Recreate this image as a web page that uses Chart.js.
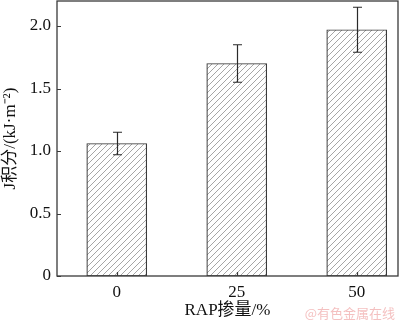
<!DOCTYPE html>
<html>
<head>
<meta charset="utf-8">
<script src="https://cdn.jsdelivr.net/npm/chart.js@4/dist/chart.umd.min.js"></script>
<style>
  html, body { margin: 0; padding: 0; background: #fff; }
  #wrap { width: 400px; height: 323px; position: relative; }
</style>
</head>
<body>
<div id="wrap"><canvas id="c" width="400" height="323"></canvas></div>
<script>
// RAP content (%) and J-integral results
const rapContent = [0, 25, 50];
const jIntegral = [1.06, 1.70, 1.97];
const jError = [0.09, 0.15, 0.18];
const yTicks = [0, 0.5, 1.0, 1.5, 2.0];

const serif = "'Liberation Serif', 'Times New Roman', 'Noto Sans CJK SC', serif";
const ink = '#3a3a3a';

// diagonal hatch fill for the bars
function makeHatch() {
  const s = 6;
  const c = document.createElement('canvas');
  c.width = s; c.height = s;
  const g = c.getContext('2d');
  g.fillStyle = '#ffffff';
  g.fillRect(0, 0, s, s);
  g.strokeStyle = '#8f8f8f';
  g.lineWidth = 0.8;
  g.beginPath();
  g.moveTo(0, s); g.lineTo(s, 0);
  g.moveTo(-1, 1); g.lineTo(1, -1);
  g.moveTo(s - 1, s + 1); g.lineTo(s + 1, s - 1);
  g.stroke();
  return g.createPattern(c, 'repeat');
}

// frame, inward ticks, error bars and the site mark
const decorations = {
  id: 'decorations',
  afterDatasetsDraw(chart) {
    const { ctx, chartArea: a, scales: { x, y } } = chart;
    ctx.save();
    // error bars
    ctx.strokeStyle = '#2a2a2a';
    ctx.lineWidth = 1.2;
    rapContent.forEach((v, i) => {
      const px = Math.round(x.getPixelForValue(v)) + 0.5;
      const top = y.getPixelForValue(jIntegral[i] + jError[i]);
      const bot = y.getPixelForValue(jIntegral[i] - jError[i]);
      ctx.beginPath();
      ctx.moveTo(px, top); ctx.lineTo(px, bot);
      ctx.moveTo(px - 4.5, top); ctx.lineTo(px + 4.5, top);
      ctx.moveTo(px - 4.5, bot); ctx.lineTo(px + 4.5, bot);
      ctx.stroke();
    });
    // frame
    ctx.strokeStyle = ink;
    ctx.lineWidth = 1.3;
    ctx.strokeRect(a.left, a.top, a.right - a.left, a.bottom - a.top);
    // inward tick marks
    ctx.lineWidth = 1.2;
    ctx.beginPath();
    yTicks.forEach(v => {
      const py = Math.round(y.getPixelForValue(v)) + 0.5;
      ctx.moveTo(a.left, py); ctx.lineTo(a.left + 4, py);
    });
    rapContent.forEach(v => {
      const px = Math.round(x.getPixelForValue(v)) + 0.5;
      ctx.moveTo(px, a.bottom); ctx.lineTo(px, a.bottom - 4);
    });
    ctx.stroke();
    ctx.restore();
  },
  afterDraw(chart) {
    const { ctx } = chart;
    ctx.save();
    ctx.fillStyle = 'rgba(240, 165, 165, 0.7)';
    ctx.font = "13px 'Noto Sans CJK SC', sans-serif";
    ctx.textAlign = 'right';
    ctx.textBaseline = 'middle';
    ctx.fillText('@有色金属在线', 395, 313);
    ctx.restore();
  }
};

const hatch = makeHatch();

new Chart(document.getElementById('c'), {
  type: 'bar',
  data: {
    datasets: [{
      data: rapContent.map((v, i) => ({ x: v, y: jIntegral[i] })),
      backgroundColor: hatch,
      borderColor: ink,
      borderWidth: 1.2,
      borderSkipped: false,
      barThickness: 60
    }]
  },
  options: {
    responsive: false,
    animation: false,
    devicePixelRatio: 1,
    layout: { padding: { top: 1, right: 2, left: 0, bottom: 0 } },
    plugins: { legend: { display: false }, tooltip: { enabled: false } },
    scales: {
      x: {
        type: 'linear',
        min: -12.45,
        max: 58.6,
        offset: false,
        grid: { display: false, drawTicks: false },
        border: { display: false },
        afterBuildTicks(scale) { scale.ticks = rapContent.map(v => ({ value: v })); },
        afterFit(scale) {
          scale.height = 47;
          scale.paddingLeft = 0; scale.paddingRight = 0;
        },
        ticks: {
          padding: 6,
          color: '#111',
          font: { family: serif, size: 17 },
          maxRotation: 0,
          callback: v => String(v)
        },
        title: {
          display: true,
          text: 'RAP掺量/%',
          color: '#111',
          font: { family: serif, size: 17 },
          padding: { top: 0, bottom: 2 }
        }
      },
      y: {
        min: 0,
        max: 2.2,
        grid: { display: false, drawTicks: false },
        border: { display: false },
        afterBuildTicks(scale) { scale.ticks = yTicks.map(v => ({ value: v })); },
        afterFit(scale) {
          scale.width = 57;
          scale.paddingTop = 0; scale.paddingBottom = 0;
        },
        ticks: {
          padding: 6,
          color: '#111',
          font: { family: serif, size: 17 },
          callback: v => (v === 0 ? '0' : v.toFixed(1))
        },
        title: {
          display: true,
          text: 'J积分/(kJ·m⁻²)',
          color: '#111',
          font: { family: serif, size: 17 },
          padding: { top: 0, bottom: 0 }
        }
      }
    }
  },
  plugins: [decorations]
});
</script>
</body>
</html>
